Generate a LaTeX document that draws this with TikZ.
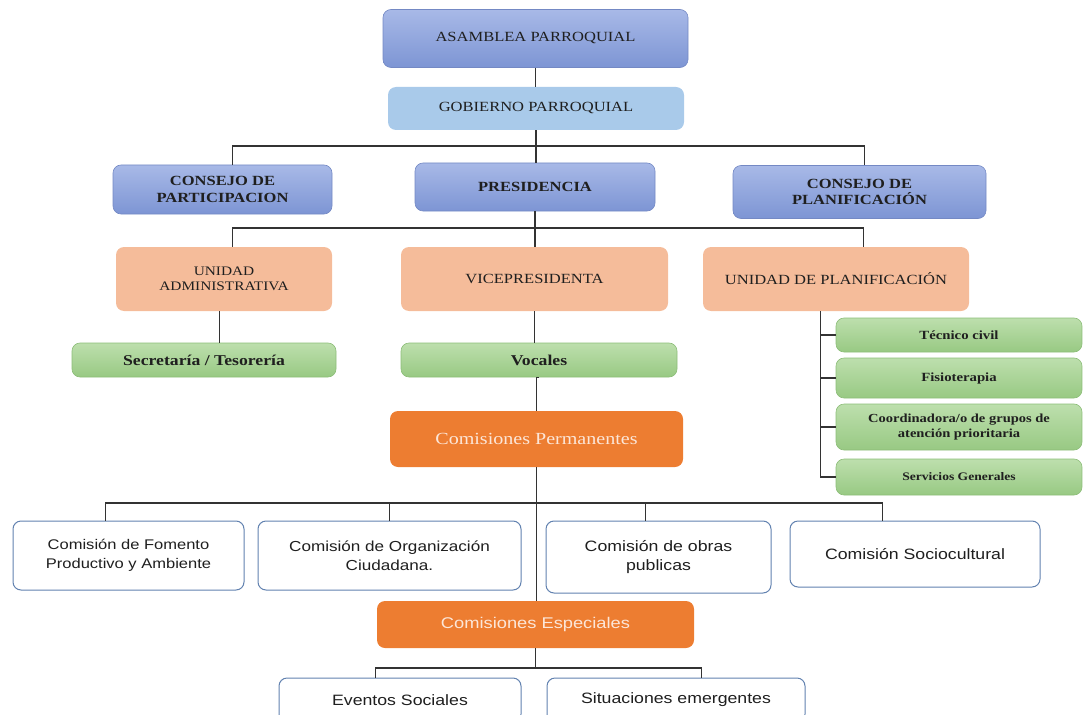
\documentclass[tikz,border=0pt]{standalone}
\usepackage{fontspec}
\setmainfont{Liberation Serif}[FakeStretch=1.18]
\setsansfont{Liberation Sans}[FakeStretch=1.18]
\usepackage{tikz}
\usetikzlibrary{
	positioning,
	calc
}

\definecolor{bluetop}{HTML}{A8B9E7}
\definecolor{bluebot}{HTML}{7D95D4}
\definecolor{blueedge}{HTML}{7489C4}
\definecolor{skyfill}{HTML}{A9CAEA}
\definecolor{salmon}{HTML}{F5BC9A}
\definecolor{greentop}{HTML}{BDDFAD}
\definecolor{greenbot}{HTML}{98C983}
\definecolor{greenedge}{HTML}{8CBD78}
\definecolor{orangefill}{HTML}{ED7D31}
\definecolor{orangetext}{HTML}{FCE6D8}
\definecolor{steeledge}{HTML}{6282B0}

\tikzset{
	boxsize/.style 2 args={minimum width=#1pt,minimum height=#2pt},
	orgbox/.style={rounded corners=8pt,align=center,inner sep=2pt,text=black!88},
	bluebox/.style={orgbox,draw=blueedge,line width=0.6pt,top color=bluetop,bottom color=bluebot,
		font=\fontsize{14}{16.5}\selectfont},
	skybox/.style={orgbox,fill=skyfill,font=\fontsize{14}{16.5}\selectfont},
	salmonbox/.style={orgbox,fill=salmon,font=\fontsize{14}{16}\selectfont},
	greenbox/.style={orgbox,draw=greenedge,line width=0.6pt,top color=greentop,bottom color=greenbot,
		font=\bfseries\fontsize{12.5}{15}\selectfont},
	orangebox/.style={orgbox,fill=orangefill,text=orangetext},
	whitebox/.style={orgbox,draw=steeledge,line width=1pt,fill=white,
		font=\sffamily\fontsize{15}{19}\selectfont},
	link/.style={draw=black!80,line width=1.2pt}
}

\begin{document}
\begin{tikzpicture}[x=1pt,y=-1pt]
	\useasboundingbox (0,0) rectangle (1083,714);

	\draw
		node[bluebox,boxsize={305}{58}]  (asamblea) at (535.5,38.5) {ASAMBLEA PARROQUIAL}
		node[skybox,boxsize={296}{43}]   (gobierno) at (536,108.5)  {GOBIERNO PARROQUIAL}

		node[bluebox,boxsize={219}{49},font=\bfseries\fontsize{14}{16.5}\selectfont]
			(cpart) at (222.5,189.5) {CONSEJO DE\\PARTICIPACION}
		node[bluebox,boxsize={240}{48},font=\bfseries\fontsize{14}{16.5}\selectfont]
			(pres) at (535,187) {PRESIDENCIA}
		node[bluebox,boxsize={253}{53},font=\bfseries\fontsize{14}{16.5}\selectfont]
			(cplan) at (859.5,192) {CONSEJO DE\\PLANIFICACIÓN}

		node[salmonbox,boxsize={216}{64},font=\fontsize{13}{15}\selectfont]
			(uadmin) at (224,279) {UNIDAD\\ADMINISTRATIVA}
		node[salmonbox,boxsize={267}{64}] (vice)  at (534.5,279) {VICEPRESIDENTA}
		node[salmonbox,boxsize={266}{64}] (uplan) at (836,279)   {UNIDAD DE PLANIFICACIÓN}

		node[greenbox,boxsize={264}{34},font=\bfseries\fontsize{15}{17}\selectfont]
			(secret) at (204,360) {Secretaría / Tesorería}
		node[greenbox,boxsize={276}{34},font=\bfseries\fontsize{15}{17}\selectfont]
			(vocales) at (539,360) {Vocales}

		node[greenbox,boxsize={246}{34}] (tecnico)   at (959,335) {Técnico civil}
		node[greenbox,boxsize={246}{40}] (fisio)     at (959,378) {Fisioterapia}
		node[greenbox,boxsize={246}{46},font=\bfseries\fontsize{12.3}{15}\selectfont]
			(coord) at (959,427) {Coordinadora/o de grupos de\\atención prioritaria}
		node[greenbox,boxsize={246}{36},font=\bfseries\fontsize{11.5}{14}\selectfont]
			(servicios) at (959,477) {Servicios Generales}

		node[orangebox,boxsize={293}{56},font=\fontsize{17}{19}\selectfont]
			(cperm) at (536.5,439) {Comisiones Permanentes}

		node[whitebox,boxsize={231}{69},font=\sffamily\fontsize{14}{19}\selectfont]
			(fomento) at (128.5,555.5) {Comisión de Fomento\\Productivo y Ambiente}
		node[whitebox,boxsize={263}{69},font=\sffamily\fontsize{14.5}{19}\selectfont]
			(organizacion) at (389.5,555.5) {Comisión de Organización\\Ciudadana.}
		node[whitebox,boxsize={225}{72}] (obras) at (658.5,557) {Comisión de obras\\publicas}
		node[whitebox,boxsize={250}{66}] (socio) at (915,554)   {Comisión Sociocultural}

		node[orangebox,boxsize={317}{47},font=\sffamily\fontsize{15.5}{18}\selectfont]
			(especiales) at (535.5,624.5) {Comisiones Especiales}

		node[whitebox,boxsize={242}{44}] (eventos)     at (400,700) {Eventos Sociales}
		node[whitebox,boxsize={258}{44}] (situaciones) at (676,700) {Situaciones emergentes}
	;

	\coordinate (bus1) at (535,146);
	\coordinate (bus2) at (535,228);
	\coordinate (bus3) at (535,503);
	\coordinate (bus4) at (535,668);
	\coordinate (ua) at ([xshift=104pt]uadmin.south west);
	\coordinate (up) at ([xshift=118pt]uplan.south west);
	\coordinate (ob) at ([xshift=100pt]obras.north west);

	\draw[link] (asamblea.south) -- (asamblea.south |- gobierno.north);
	\draw[link] (gobierno.south) -- (gobierno.south |- pres.north);
	\draw[link] ([xshift=120pt]cpart.north west) |- (bus1) -| ([xshift=132pt]cplan.north west);

	\draw[link] (pres.south) -- (pres.south |- vice.north);
	\draw[link] ([xshift=117pt]uadmin.north west) |- (bus2) -| ([xshift=161pt]uplan.north west);

	\draw[link] (ua) -- (ua |- secret.north);
	\draw[link] (vice.south) -- (vice.south |- vocales.north);
	\draw[link] (vocales.south) -- (vocales.south -| cperm.south) -- (cperm.north);

	\draw[link] (up) |- (servicios.west);
	\foreach \n in {tecnico,fisio,coord}
		\draw[link] (up |- \n.west) -- (\n.west);

	\draw[link] (cperm.south) -- (cperm.south |- especiales.north);
	\draw[link] ([xshift=93pt]fomento.north west) |- (bus3) -| ([xshift=93pt]socio.north west);
	\draw[link] (organizacion.north) -- (organizacion.north |- bus3);
	\draw[link] (ob) -- (ob |- bus3);

	\draw[link] (especiales.south) -- (especiales.south |- bus4);
	\draw[link] ([xshift=97pt]eventos.north west) |- (bus4) -| ([xshift=155pt]situaciones.north west);
\end{tikzpicture}
\end{document}
